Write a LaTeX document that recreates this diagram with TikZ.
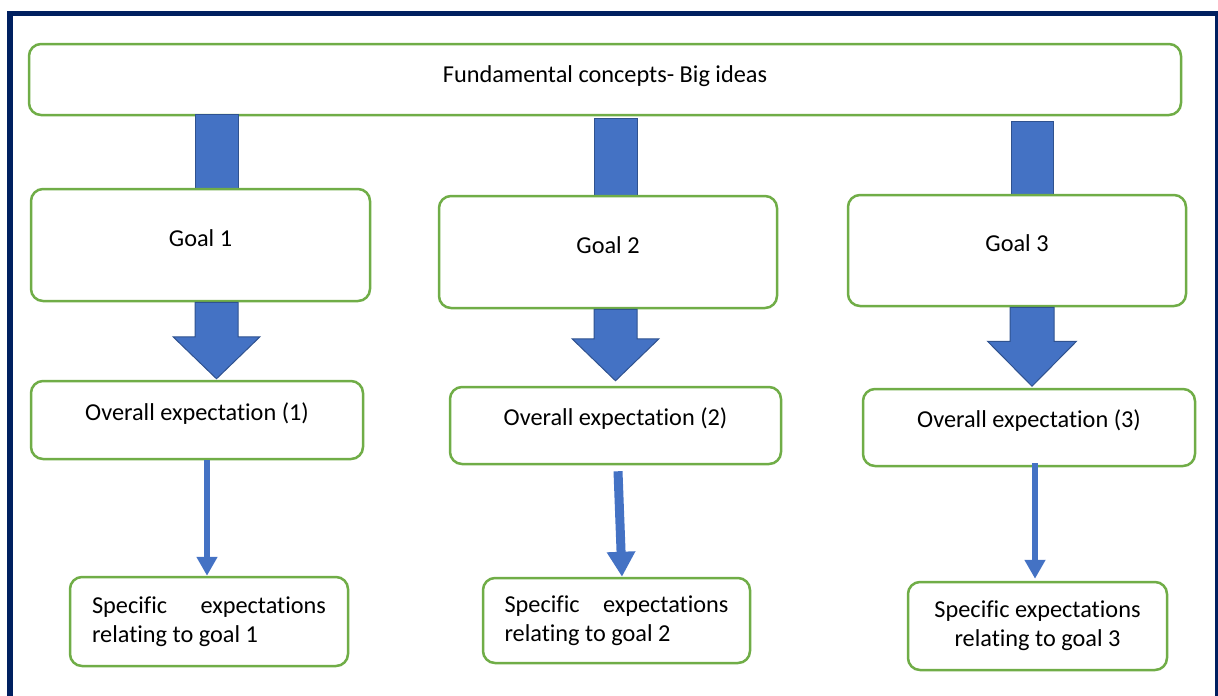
\documentclass[tikz,border=0pt]{standalone}
\usepackage{fontspec}
\setmainfont{Carlito}[Ligatures=NoCommon]
\usetikzlibrary{arrows.meta,calc}
\definecolor{framenavy}{HTML}{002060}
\definecolor{boxgreen}{HTML}{70AD47}
\definecolor{arrowblue}{HTML}{4472C4}
\definecolor{arrowedge}{HTML}{2F528F}
\begin{document}
\begin{tikzpicture}[x=1pt,y=-1pt,
  box/.style={draw=boxgreen, line width=2.5pt, rounded corners=12pt, fill=white, inner sep=0pt, font=\fontsize{24.3}{29}\selectfont},
  blockarrow/.style={fill=arrowblue, draw=arrowedge, line width=1pt},
  thinarrow/.style={draw=arrowblue, line width=6.5pt, -{Triangle[width=20pt,length=19pt]}}]
\clip (0,0) rectangle (1218,696);
% outer frame (open at the bottom)
\draw[framenavy, line width=5.5pt] (10,710) -- (10,13.5) -- (1217.5,13.5) -- (1217.5,710);
% arrow axes
\coordinate (a1) at (216.5,0);
\coordinate (a2) at (615.5,0);
\coordinate (a3) at (1032,0);
% big ideas
\node[box, minimum width=1152, minimum height=71, text height=18, text depth=13] (top) at (605,79.5) {Fundamental concepts- Big ideas};
\draw[blockarrow] ($(top.south -| a1)+(-21.5,-2)$) rectangle ($(top.south -| a1)+(21.5,76)$);
\draw[blockarrow] ($(top.south -| a2)+(-21.5,2)$) rectangle ($(top.south -| a2)+(21.5,82)$);
\draw[blockarrow] ($(top.south -| a3)+(-21,5)$) rectangle ($(top.south -| a3)+(21,81)$);
% goals
\node[box, minimum width=339, minimum height=112, text height=18, text depth=16] (g1) at (200.5,245) {Goal 1};
\node[box, minimum width=338, minimum height=112, text height=18, text depth=16] (g2) at (608,252) {Goal 2};
\node[box, minimum width=338, minimum height=111, text height=18, text depth=16] (g3) at (1017,250.5) {Goal 3};
% overall expectations
\node[box, minimum width=332, minimum height=78, text height=18, text depth=18] (o1) at (197,420) {Overall expectation (1)};
\node[box, minimum width=331, minimum height=77, text height=18, text depth=18] (o2) at (615.5,425.5) {Overall expectation (2)};
\node[box, minimum width=332, minimum height=77, text height=18, text depth=18] (o3) at (1029,427.5) {Overall expectation (3)};
\draw[blockarrow] ($(g1.south -| a1)+(-21.5,0)$) -- ($(o1.north -| a1)+(-21.5,-43)$) -- ++(-22,0)
  -- ($(o1.north -| a1)+(0,-1)$) -- ($(o1.north -| a1)+(43.5,-43)$) -- ++(-22,0) -- ($(g1.south -| a1)+(21.5,0)$) -- cycle;
\draw[blockarrow] ($(g2.south -| a2)+(-21.5,0)$) -- ($(o2.north -| a2)+(-21.5,-47)$) -- ++(-22,0)
  -- ($(o2.north -| a2)+(0,-5)$) -- ($(o2.north -| a2)+(43.5,-47)$) -- ++(-22,0) -- ($(g2.south -| a2)+(21.5,0)$) -- cycle;
\draw[blockarrow] ($(g3.south -| a3)+(-22,0)$) -- ($(o3.north -| a3)+(-22,-46.5)$) -- ++(-22.5,0)
  -- ($(o3.north -| a3)+(0,-1.5)$) -- ($(o3.north -| a3)+(44.5,-46.5)$) -- ++(-22.5,0) -- ($(g3.south -| a3)+(22,0)$) -- cycle;
% specific expectations
\node[box, minimum width=278, minimum height=89, text width=234, align=flush left] (s1) at (209,621.5) {Specific\hfill expectations\\relating to goal 1};
\node[box, minimum width=267, minimum height=85, text width=224, align=flush left] (s2) at (616.5,620.5) {Specific\hfill expectations\\relating to goal 2};
\node[box, minimum width=259, minimum height=88, align=center] (s3) at (1037.5,626) {Specific expectations\\relating to goal 3};
\draw[thinarrow] ([xshift=-2pt]s1.north |- o1.south) -- ([xshift=-2pt]s1.north);
\draw[thinarrow, line width=9pt, -{Triangle[width=27pt,length=25pt]}] ($(o2.south)+(2.5,6)$) -- ($(s2.north)+(5.5,0)$);
\draw[thinarrow] ($(o3.south)+(6,-4)$) -- ($(s3.north)+(-2.5,-2)$);
\end{tikzpicture}
\end{document}
